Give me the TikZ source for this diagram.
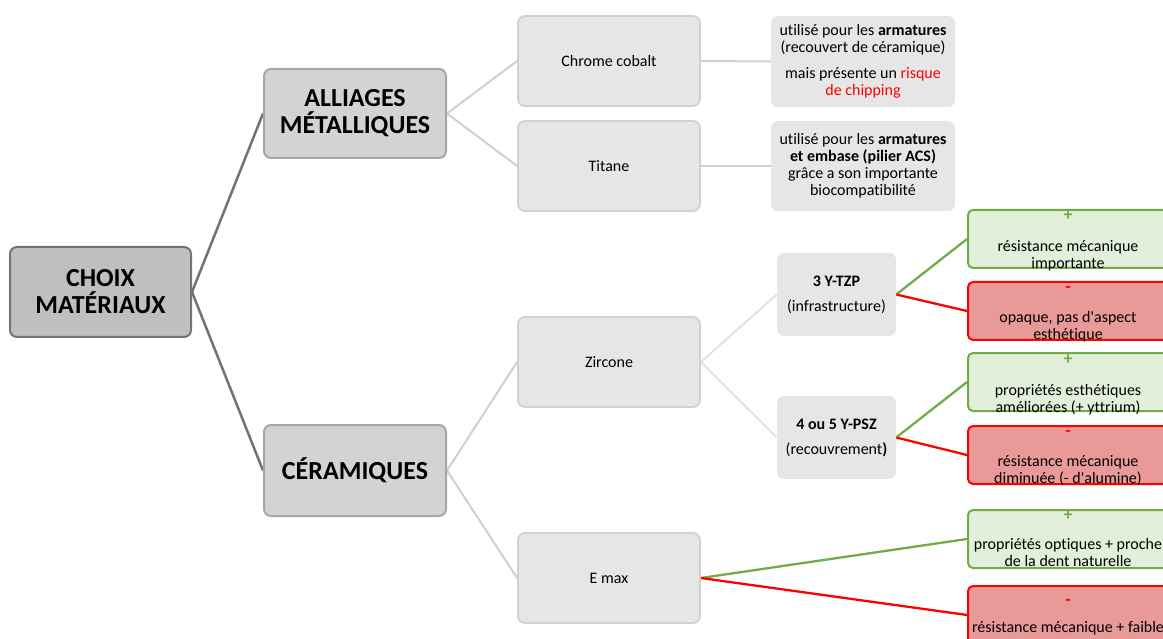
\documentclass[tikz,border=0pt]{standalone}
\usepackage{fontspec}
\setmainfont{Carlito}[Ligatures={TeXOff,NoCommon}]
\usetikzlibrary{backgrounds}
\definecolor{rootfill}{HTML}{BFBFBF}
\definecolor{rootdraw}{HTML}{737373}
\definecolor{lonefill}{HTML}{D3D3D3}
\definecolor{lonedraw}{HTML}{A6A6A6}
\definecolor{ltwofill}{HTML}{E6E6E6}
\definecolor{ltwodraw}{HTML}{D0D0D0}
\definecolor{lineone}{HTML}{D0D0D0}
\definecolor{linetwo}{HTML}{E2E2E2}
\definecolor{progreen}{HTML}{70AD47}
\definecolor{profill}{HTML}{E2EFDA}
\definecolor{conred}{HTML}{FF0000}
\definecolor{confill}{HTML}{EA9999}
\tikzset{
  bigfont/.style={font=\fontsize{26}{27}\selectfont\bfseries},
  smallfont/.style={font=\fontsize{16}{17}\selectfont},
  rootbox/.style={draw=rootdraw, fill=rootfill, line width=2pt, rounded corners=7pt, align=center, inner sep=0pt, bigfont},
  onebox/.style={draw=lonedraw, fill=lonefill, line width=2pt, rounded corners=7pt, align=center, inner sep=0pt, bigfont},
  twobox/.style={draw=ltwodraw, fill=ltwofill, line width=1.8pt, rounded corners=7pt, align=center, inner sep=0pt, smallfont},
  notebox/.style={fill=ltwofill, rounded corners=7pt, align=center, inner sep=0pt, smallfont},
  probox/.style={draw=progreen, fill=profill, line width=2pt, rounded corners=5pt, inner sep=0pt, minimum width=200pt, minimum height=58pt},
  conbox/.style={draw=conred, fill=confill, line width=2pt, rounded corners=5pt, inner sep=0pt, minimum width=200pt, minimum height=58pt},
  boxtext/.style={align=center, inner sep=0pt, smallfont},
  plussign/.style={inner sep=0pt, text=progreen, font=\fontsize{18}{18}\selectfont\bfseries},
  minussign/.style={inner sep=0pt, text=conred, font=\fontsize{18}{18}\selectfont\bfseries},
  rootline/.style={draw=rootdraw, line width=2.5pt},
  oneline/.style={draw=lineone, line width=2pt},
  twoline/.style={draw=linetwo, line width=2pt},
  proline/.style={draw=progreen, line width=2.3pt},
  conline/.style={draw=conred, line width=2.3pt},
}
\begin{document}
\begin{tikzpicture}[x=1pt,y=-1pt]
\useasboundingbox (0,0) rectangle (1163,639);
\clip (0,0) rectangle (1163,639);

% level 0 / 1
\node[rootbox, minimum width=181pt, minimum height=90pt] (choix) at (100.5,292) {CHOIX\\MATÉRIAUX};
\node[onebox, minimum width=182pt, minimum height=89pt] (alliages) at (355,113.5) {ALLIAGES\\MÉTALLIQUES};
\node[onebox, minimum width=182pt, minimum height=91pt] (ceram) at (355,470.5) {CÉRAMIQUES};

% level 2
\node[twobox, minimum width=182pt, minimum height=90pt] (chrome) at (609,61) {Chrome cobalt};
\node[twobox, minimum width=182pt, minimum height=90pt] (titane) at (609,166) {Titane};
\node[twobox, minimum width=182pt, minimum height=90pt] (zircone) at (609,362) {Zircone};
\node[twobox, minimum width=182pt, minimum height=90pt] (emax) at (609,578) {E max};

% notes
\node[notebox, minimum width=184pt, minimum height=91pt] (noteone) at (863,61.5) {utilisé pour les \textbf{armatures}\\(recouvert de céramique)\\[9pt]mais présente un \textcolor{conred}{risque}\\\textcolor{conred}{de chipping}};
\node[notebox, minimum width=184pt, minimum height=90pt] (notetwo) at (863,166) {utilisé pour les \textbf{armatures}\\\textbf{et embase (pilier ACS)}\\grâce a son importante\\biocompatibilité};

% zircone types
\node[notebox, minimum width=119pt, minimum height=83pt] (tzp) at (836.5,294.5) {\textbf{3 Y-TZP}\\[8pt](infrastructure)};
\node[notebox, minimum width=119pt, minimum height=83pt] (psz) at (836.5,437.5) {\textbf{4 ou 5 Y-PSZ}\\[8pt](recouvrement\textbf{)}};

% pro / con boxes
\node[probox] (gone) at (1068,239) {};
\node[conbox] (rone) at (1068,311) {};
\node[probox] (gtwo) at (1068,382) {};
\node[conbox] (rtwo) at (1068,455) {};
\node[probox] (gthree) at (1068,539) {};
\node[conbox] (rthree) at (1068,615) {};

\node[plussign] (goneplus) at (1068,216) {+};
\node[boxtext] (gonetext) at (1068,255.5) {résistance mécanique\\importante};
\node[minussign] (ronemin) at (1068,289) {-};
\node[boxtext] (ronetext) at (1068,326.5) {opaque, pas d'aspect\\esthétique};
\node[plussign] (gtwoplus) at (1068,360) {+};
\node[boxtext] (gtwotext) at (1068,400) {propriétés esthétiques\\améliorées (+ yttrium)};
\node[minussign] (rtwomin) at (1068,433) {-};
\node[boxtext] (rtwotext) at (1068,471) {résistance mécanique\\diminuée (- d'alumine)};
\node[plussign] (gthreeplus) at (1068,516) {+};
\node[boxtext] (gthreetext) at (1068,553) {propriétés optiques + proche\\de la dent naturelle};
\node[minussign] (rthreemin) at (1068,602) {-};
\node[boxtext] (rthreetext) at (1068,628) {résistance mécanique + faible};

% connectors
\begin{scope}[on background layer]
\draw[rootline] (choix.east) -- (alliages.west);
\draw[rootline] (choix.east) -- (ceram.west);
\draw[oneline] (alliages.east) -- (chrome.west);
\draw[oneline] (alliages.east) -- (titane.west);
\draw[oneline] (ceram.east) -- (zircone.west);
\draw[oneline] (ceram.east) -- (emax.west);
\draw[oneline] (chrome.east) -- (noteone.west);
\draw[oneline] (titane.east) -- (notetwo.west);
\draw[twoline] (zircone.east) -- (tzp.west);
\draw[twoline] (zircone.east) -- (psz.west);
\draw[proline] (tzp.east) -- (gone.west);
\draw[conline] (tzp.east) -- (rone.west);
\draw[proline] (psz.east) -- (gtwo.west);
\draw[conline] (psz.east) -- (rtwo.west);
\draw[proline] (emax.east) -- (gthree.west);
\draw[conline] (emax.east) -- (rthree.west);
\end{scope}
\end{tikzpicture}
\end{document}
